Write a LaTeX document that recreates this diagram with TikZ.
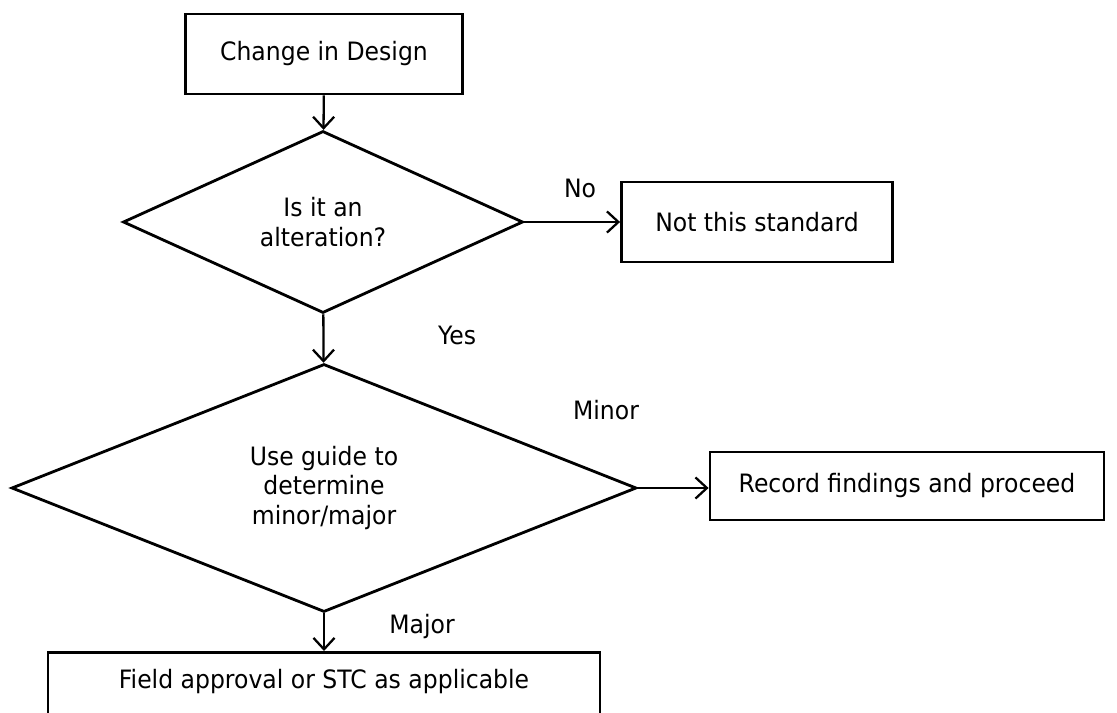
\documentclass[tikz,border=0pt]{standalone}
\usepackage{fontspec}
\setmainfont{DejaVu Sans}[FakeStretch=0.93]
\usetikzlibrary{shapes.geometric,arrows.meta}

\tikzset{
	procbox/.style={draw, line width=1.6pt, inner sep=0pt, align=center},
	decision/.style={draw, diamond, line width=1.6pt, inner sep=0pt, align=center},
	flow/.style={line width=1.3pt, -{Straight Barb[length=6.5pt,width=12pt,line width=1.3pt]}},
	lbl/.style={inner sep=0pt}
}

\begin{document}
\begin{tikzpicture}[x=0.02cm, y=-0.02cm, font=\fontsize{14.4}{17}\selectfont]
		%%%%% START %%%%%
		\useasboundingbox (0, 0) rectangle (1117, 713);
		\clip (0, 0) rectangle (1117, 713);
		
		\node[procbox, minimum width=277*0.02cm, minimum height=80*0.02cm] (design) at (324, 54) {Change in Design};
		
		\node[decision, minimum width=400*0.02cm, minimum height=182*0.02cm] (alter) at (323, 222) {Is it an\\alteration?};
		\node[procbox, minimum width=271*0.02cm, minimum height=80*0.02cm] (notstd) at (757, 222) {Not this standard};
		
		\node[decision, minimum width=625*0.02cm, minimum height=248*0.02cm] (guide) at (324, 488) {Use guide to\\determine\\minor/major};
		\node[procbox, minimum width=394*0.02cm, minimum height=68*0.02cm] (record) at (907, 486) {Record findings and proceed};
		
		\node[procbox, minimum width=552*0.02cm, minimum height=110*0.02cm, anchor=north] (field) at (324, 651) {};
		\node[lbl] (fieldtxt) at (324, 682) {Field approval or STC as applicable};
		
		\draw[flow] (design) -- (alter);
		\draw[flow] (alter) -- (notstd);
		\draw[flow] (alter) -- (guide);
		\draw[flow] (guide.east) -- (record.west |- guide.east);
		\draw[flow] (guide) -- (field);
		
		\node[lbl] (no) at (580, 188) {No};
		\node[lbl] (yes) at (457, 335) {Yes};
		\node[lbl] (minor) at (606, 410) {Minor};
		\node[lbl] (major) at (422, 627) {Major};
		
		%%%%% END %%%%%
	\end{tikzpicture}
\end{document}
